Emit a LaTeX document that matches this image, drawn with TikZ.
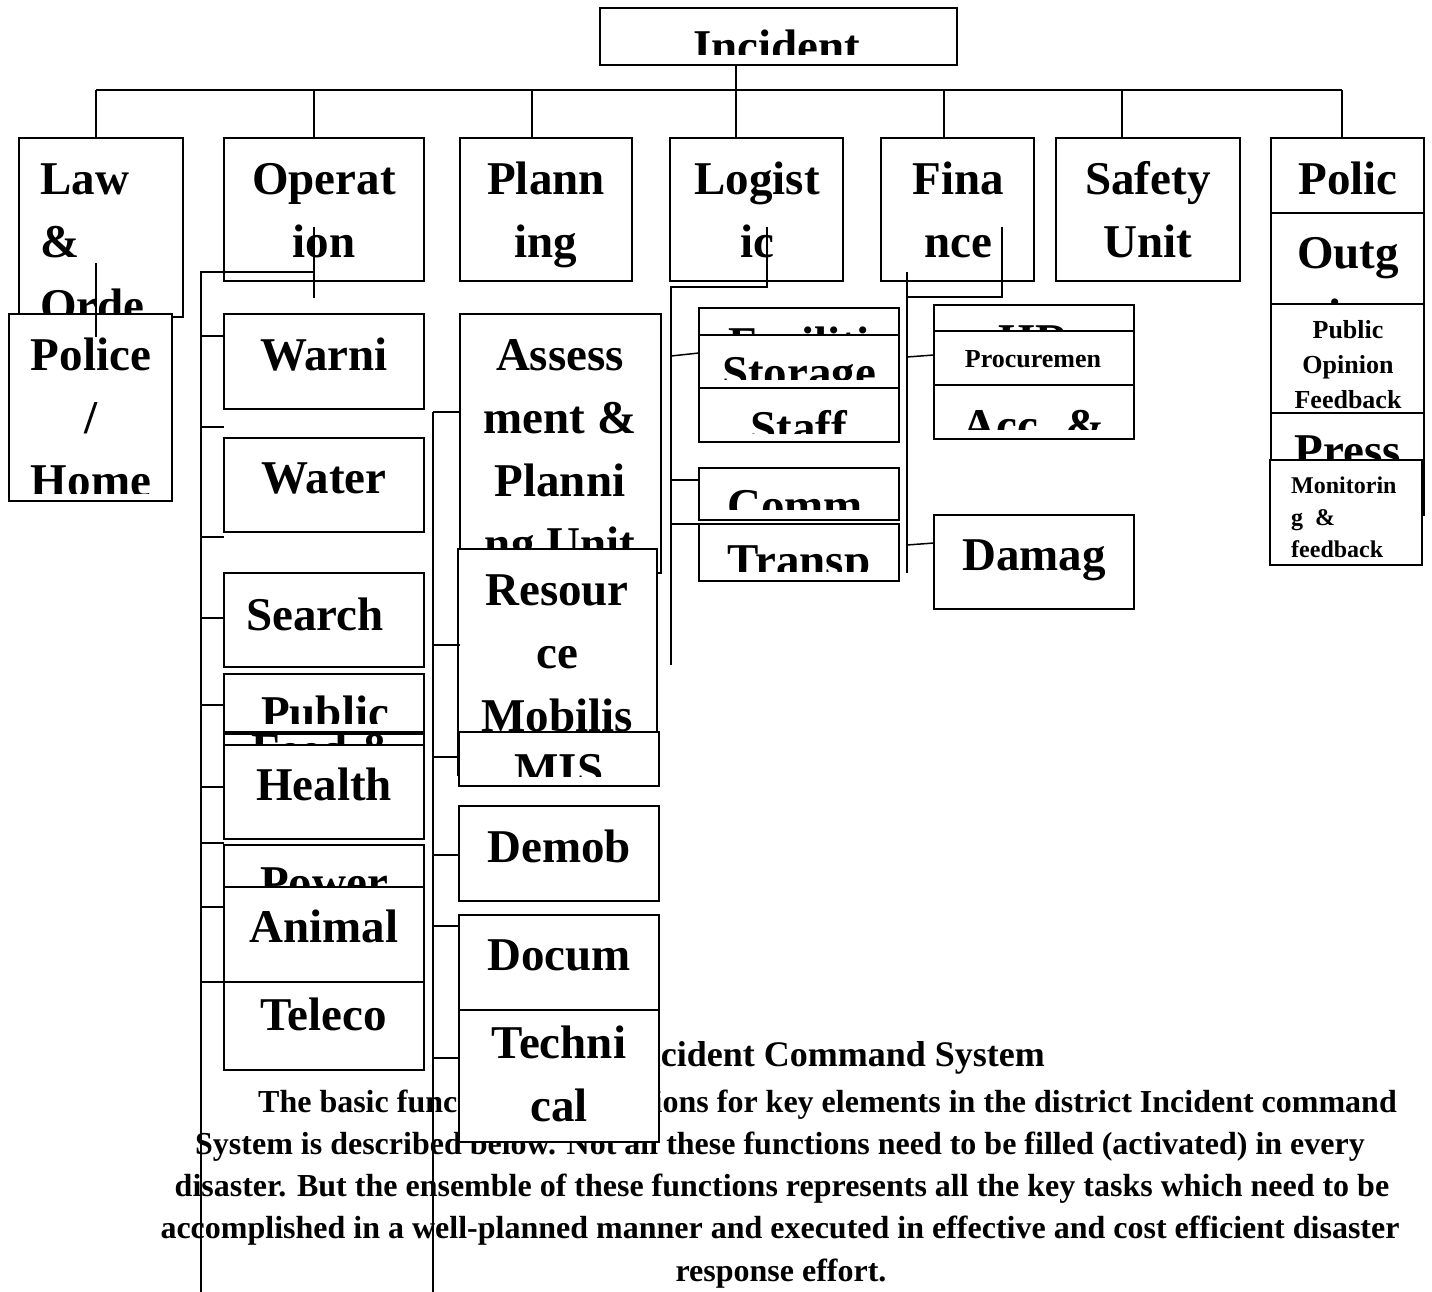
\documentclass[tikz,border=0pt]{standalone}
\usepackage{fontspec}
\setmainfont{Liberation Serif}
\newcommand\bigf{\fontsize{47}{56}\selectfont\bfseries}
\newcommand\smf{\fontsize{26}{31}\selectfont\bfseries}
\newcommand\monf{\fontsize{24}{29}\selectfont\bfseries}
\newcommand\parf{\fontsize{32}{40}\selectfont\bfseries}
\newcommand\titf{\fontsize{36}{43}\selectfont\bfseries}
% a box: name, x1, y1, x2, y2 (y grows downwards)
\newcommand\bx[5]{%
  \def\curname{#1}\def\cxa{#2}\def\cya{#3}\def\cxb{#4}%
  \pgfmathsetmacro\bw{#4-#2}\pgfmathsetmacro\bh{#5-#3}%
  \node[boxst, minimum width=\bw pt, minimum height=\bh pt] (#1) at (#2,#3) {};}
% text lines of the last box: clip bottom, x, first baseline, style, lines
\newcommand\tl[5]{%
  \begin{scope}
    \clip (\cxa,\cya) rectangle (\cxb,#1);
    \foreach \txt [count=\i] in {#5}
      \node[#4] (\curname-\i) at ({#2},{#3+\lstep*(\i-1)}) {\txt};
  \end{scope}}
\tikzset{
  boxst/.style={draw, fill=white, line width=1.7pt, inner sep=0pt, outer sep=0pt, anchor=north west},
  conn/.style={line width=1.5pt},
  tbig/.style={anchor=base, font=\bigf, inner sep=0pt},
  tbigw/.style={anchor=base west, font=\bigf, inner sep=0pt},
  tsmall/.style={anchor=base, font=\smf, inner sep=0pt},
  tmon/.style={anchor=base west, font=\monf, inner sep=0pt},
  para/.style={font=\parf, inner sep=0pt}
}
\begin{document}
\begin{tikzpicture}[x=1pt,y=-1pt]
\useasboundingbox[fill=white] (0,0) rectangle (1432,1292);

% caption and description
\node[anchor=base east, font=\titf, inner sep=0pt] (title) at (1045,1066) {Incident Command System};
\node[para, anchor=base east] (p1) at (1397,1112) {The basic functional descriptions for key elements in the district Incident command};
\node[para, anchor=base] (p2) at (780,1154) {System is described below. Not all these functions need to be filled (activated) in every};
\node[para, anchor=base] (p3) at (782,1196) {disaster. But the ensemble of these functions represents all the key tasks which need to be};
\node[para, anchor=base] (p4) at (780,1238) {accomplished in a well-planned manner and executed in effective and cost efficient disaster};
\node[para, anchor=base] (p5) at (781,1281) {response effort.};

\def\lstep{63}
% head
\bx{inc}{600}{8}{957}{65}\tl{55}{777}{63}{tbig}{Incident}

% sections
\bx{law}{19}{138}{183}{317}\tl{317}{40}{195}{tbigw}{Law,\&,Orde}
\bx{ops}{224}{138}{424}{281}\tl{278}{324}{195}{tbig}{Operat,ion}
\bx{pln}{460}{138}{632}{281}\tl{278}{546}{195}{tbig}{Plann,ing}
\bx{lgs}{670}{138}{843}{281}\tl{278}{757}{195}{tbig}{Logist,ic}
\bx{fin}{881}{138}{1034}{281}\tl{278}{958}{195}{tbig}{Fina,nce}
\bx{saf}{1056}{138}{1240}{281}\tl{278}{1148}{195}{tbig}{Safety,Unit}
\bx{pol}{1271}{138}{1424}{213}\tl{213}{1348}{195}{tbig}{Polic}
\bx{out}{1271}{213}{1424}{304}\tl{304}{1348}{268}{tbig}{Outg,oing}
\def\lstep{35}
\bx{opn}{1271}{304}{1424}{413}\tl{413}{1348}{338}{tsmall}{Public,Opinion,Feedback}
\def\lstep{63}
\bx{prs}{1271}{413}{1424}{515}\tl{460}{1348}{466}{tbig}{Press}
\def\lstep{32}
\bx{mon}{1270}{460}{1422}{565}\tl{562}{1291}{493}{tmon}{Monitorin,g\ \ \&,feedback}
\def\lstep{63}
\bx{plc}{9}{314}{172}{501}\tl{493}{91}{370}{tbig}{Police,/,Home}

% operation units
\bx{warn}{224}{314}{424}{409}\tl{405}{324}{370}{tbig}{Warni}
\bx{watr}{224}{438}{424}{532}\tl{522}{324}{493}{tbig}{Water}
\bx{srch}{224}{573}{424}{667}\tl{662}{315}{630}{tbig}{Search}
\bx{feed}{224}{734}{424}{828}\tl{745}{325}{765}{tbig}{Feed \&}
\bx{publ}{224}{674}{424}{732}\tl{723}{325}{728}{tbig}{Public}
\bx{hlth}{224}{745}{424}{839}\tl{835}{324}{800}{tbig}{Health}
\bx{powr}{224}{845}{424}{939}\tl{887}{324}{898}{tbig}{Power}
\bx{anml}{224}{887}{424}{982}\tl{978}{324}{942}{tbig}{Animal}
\bx{tele}{224}{982}{424}{1070}\tl{1066}{324}{1030}{tbig}{Teleco}

% planning units
\bx{asmt}{460}{314}{661}{573}\tl{570}{560}{370}{tbig}{Assess,ment \&,Planni,ng Unit}
\bx{rsrc}{458}{549}{657}{775}\tl{772}{557}{605}{tbig}{Resour,ce,Mobilis}
\bx{mis}{459}{732}{659}{786}\tl{776}{559}{785}{tbig}{MIS}
\bx{dmob}{459}{806}{659}{901}\tl{897}{559}{862}{tbig}{Demob}
\bx{docu}{459}{915}{659}{1010}\tl{1006}{559}{970}{tbig}{Docum}
\bx{tech}{459}{1010}{659}{1142}\tl{1138}{559}{1058}{tbig}{Techni,cal}

% logistic units
\bx{faci}{699}{308}{899}{335}\tl{335}{799}{359}{tbig}{Faciliti}
\bx{stor}{699}{335}{899}{388}\tl{379}{799}{388}{tbig}{Storage}
\bx{staf}{699}{388}{899}{442}\tl{433}{799}{443}{tbig}{Staff}
\bx{comm}{699}{468}{899}{520}\tl{509}{795}{521}{tbig}{Comm}
\bx{trns}{699}{524}{899}{581}\tl{571}{799}{576}{tbig}{Transp}

% finance units
\bx{hr}{934}{305}{1134}{331}\tl{331}{1034}{356}{tbig}{HR}
\bx{proc}{934}{331}{1134}{385}\tl{381}{1033}{367}{tsmall}{Procuremen}
\bx{accs}{934}{385}{1134}{439}\tl{429}{1034}{441}{tbig}{Acc. \&}
\bx{dmg}{934}{515}{1134}{609}\tl{605}{1034}{570}{tbig}{Damag}

% head to sections
\draw[conn] (inc.south -| 736,0) -- (lgs.north -| 736,0);
\draw[conn] (96,90) -- (1342,90);
\foreach \x/\n in {96/law,314/ops,532/pln,944/fin,1122/saf,1342/pol}
  \draw[conn] (\x,90) -- (\n.north -| \x,0);
\draw[conn] (96,263) -- (96,337);

% operation branch
\coordinate (opA) at (314,227);
\coordinate (opJ) at (314,272);
\coordinate (opT) at (201,272);
\draw[conn] (opA) -- (314,298);
\draw[conn] (opJ) -- (opT) -- (opT |- 0,1292);
\foreach \y in {336,427,537,618,705,787,843,907,982}
  \draw[conn] (opT |- 0,\y) -- (warn.west |- 0,\y);

% planning branch
\coordinate (plT) at (433,412);
\draw[conn] (plT) -- (plT |- 0,1292);
\foreach \y in {412,645,757,855,926,1058}
  \draw[conn] (plT |- 0,\y) -- (asmt.west |- 0,\y);

% logistic branch
\coordinate (lgA) at (767,227);
\coordinate (lgT) at (671,287);
\draw[conn] (lgA) -- (767,287) -- (lgT) -- (671,665);
\draw[conn] (671,356) -- (stor.west |- 0,353);
\foreach \y in {480,524}
  \draw[conn] (lgT |- 0,\y) -- (stor.west |- 0,\y);

% finance branch
\coordinate (fnA) at (1002,227);
\coordinate (fnT) at (907,272);
\draw[conn] (fnA) -- (1002,297) -- (907,297);
\draw[conn] (fnT) -- (907,573);
\draw[conn] (907,357) -- (proc.west |- 0,355);
\draw[conn] (907,545) -- (dmg.west |- 0,543);
\end{tikzpicture}
\end{document}
